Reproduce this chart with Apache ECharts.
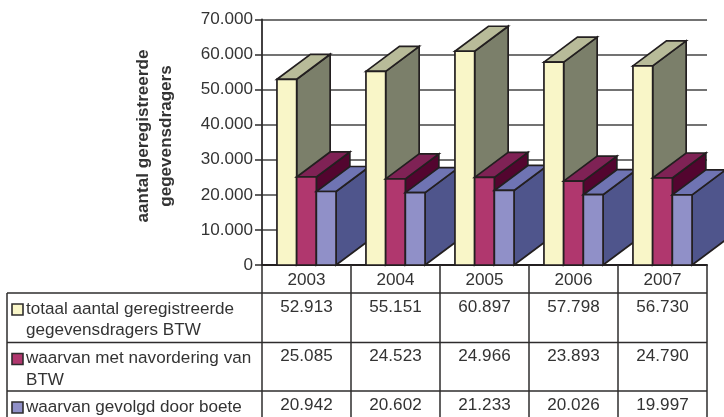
<!DOCTYPE html>
<html>
<head>
<meta charset="utf-8">
<style>html,body{margin:0;padding:0;background:#fff}#chart{width:724px;height:417px}</style>
<script src="https://cdn.jsdelivr.net/npm/echarts@6/dist/echarts.min.js"></script>
</head>
<body>
<div id="chart"></div>
<script>
const years = ['2003', '2004', '2005', '2006', '2007'];
const totaal = [52913, 55151, 60897, 57798, 56730];
const navordering = [25085, 24523, 24966, 23893, 24790];
const boete = [20942, 20602, 21233, 20026, 19997];
const yTicks = [0, 10000, 20000, 30000, 40000, 50000, 60000, 70000];
const yTitle = ['aantal geregistreerde', 'gegevensdragers'];
const rowLabels = [
  ['totaal aantal geregistreerde', 'gegevensdragers BTW'],
  ['waarvan met navordering van', 'BTW'],
  ['waarvan gevolgd door boete']
];
const rowValues = [totaal, navordering, boete];

const FONT = '"Liberation Sans", Arial, sans-serif';
const FONT_SIZE = 17.1;
const INK = '#231f20';
const RULE = '#2e2c2d';
const TEXT = '#333333';
const fmt = v => String(v).replace(/\B(?=(\d{3})+$)/g, '.');

// Front, top and side shades of each column series
const shades = [
  { front: '#f9f6c8', top: '#b8bb99', side: '#7b7f6a' },
  { front: '#b0376e', top: '#7f2255', side: '#53052f' },
  { front: '#9090c8', top: '#6f74b3', side: '#4f558c' }
];

const BAR_W = 19.7, DX = 33.5, DY = 25;

// Extruded column: front rectangle plus a parallelogram for the top and the side
function columnRenderer(seriesIdx) {
  const c = shades[seriesIdx];
  return function (params, api) {
    const top = api.coord([api.value(0), api.value(1)]);
    const base = api.coord([api.value(0), 0]);
    const x0 = top[0] + (seriesIdx - 1.5) * BAR_W;
    const x1 = x0 + BAR_W;
    const y0 = top[1], y1 = base[1];
    const stroke = { stroke: INK, lineWidth: 1.7, lineJoin: 'miter' };
    const poly = (points, fill) => ({
      type: 'polygon',
      shape: { points },
      style: Object.assign({ fill }, stroke)
    });
    return {
      type: 'group',
      children: [
        poly([[x1, y0], [x1 + DX, y0 - DY], [x1 + DX, y1 - DY], [x1, y1]], c.side),
        poly([[x0, y0], [x0 + DX, y0 - DY], [x1 + DX, y0 - DY], [x1, y0]], c.top),
        poly([[x0, y0], [x1, y0], [x1, y1], [x0, y1]], c.front)
      ]
    };
  };
}

const L = 262, R = 707, TOP = 19.3, BASE = 265;
const TABLE_LEFT = 7, ROW_Y = [293, 342.5, 391], TABLE_BOTTOM = 417;
const VALUE_Y = [307.5, 356.5, 405.5];
const band = (R - L) / years.length;

// Data table beneath the plot: one custom-series cell per value
function tableCell(row) {
  return function (params, api) {
    const p = api.coord([api.value(0), 0]);
    return {
      type: 'text',
      x: p[0], y: VALUE_Y[row],
      style: {
        text: fmt(api.value(1)), fill: TEXT, font: FONT_SIZE + 'px ' + FONT,
        align: 'center', verticalAlign: 'middle'
      }
    };
  };
}

const line = (x1, y1, x2, y2) => ({
  type: 'line',
  shape: { x1, y1, x2, y2 },
  style: { stroke: RULE, lineWidth: 1.5 },
  silent: true
});

const extras = [];
ROW_Y.forEach(y => extras.push(line(TABLE_LEFT, y, R, y)));
extras.push(line(TABLE_LEFT, ROW_Y[0], TABLE_LEFT, TABLE_BOTTOM));
for (let i = 0; i <= years.length; i++) {
  const x = L + i * band;
  extras.push(line(x, ROW_Y[0], x, TABLE_BOTTOM));
}
rowLabels.forEach((lines, r) => {
  extras.push({
    type: 'rect',
    shape: { x: 12, y: ROW_Y[r] + 11, width: 11, height: 11 },
    style: { fill: shades[r].front, stroke: RULE, lineWidth: 1.6 }
  });
  lines.forEach((t, k) => {
    extras.push({
      type: 'text',
      x: 26, y: ROW_Y[r] + 16 + k * 21.5,
      style: { text: t, fill: TEXT, font: FONT_SIZE + 'px ' + FONT, align: 'left', verticalAlign: 'middle' }
    });
  });
});

// Rotated two-line title next to the value axis
yTitle.forEach((t, k) => {
  extras.push({
    type: 'text',
    x: 143 + k * 23, y: 136,
    rotation: Math.PI / 2,
    style: { text: t, fill: TEXT, font: 'bold ' + FONT_SIZE + 'px ' + FONT, align: 'center', verticalAlign: 'middle' }
  });
});

const toPairs = arr => arr.map((v, i) => [i, v]);
const columnSeries = [totaal, navordering, boete];

// One custom series per category position keeps the paint order left to right
const chart = echarts.init(document.getElementById('chart'), null, { renderer: 'canvas' });
const series = [];
years.forEach((_, i) => {
  columnSeries.forEach((arr, s) => {
    series.push({
      type: 'custom',
      name: rowLabels[s].join(' '),
      renderItem: columnRenderer(s),
      data: [[i, arr[i]]],
      encode: { x: 0, y: 1 },
      clip: false,
      z: 3 + i,
      silent: true
    });
  });
});
rowValues.forEach((arr, r) => {
  series.push({
    type: 'custom',
    renderItem: tableCell(r),
    data: toPairs(arr),
    encode: { x: 0, y: 1 },
    clip: false,
    z: 20,
    silent: true
  });
});

chart.setOption({
  animation: false,
  backgroundColor: '#fff',
  textStyle: { fontFamily: FONT },
  grid: { left: L, right: 724 - R, top: TOP, height: BASE - TOP },
  xAxis: {
    type: 'category',
    data: years,
    axisLine: { onZero: false, lineStyle: { color: INK, width: 2 } },
    axisTick: { show: true, length: 28, inside: false, alignWithLabel: false, lineStyle: { color: RULE, width: 1.5 } },
    axisLabel: { color: TEXT, fontSize: FONT_SIZE, margin: 7, fontFamily: FONT, interval: 0 }
  },
  yAxis: {
    type: 'value',
    min: yTicks[0],
    max: yTicks[yTicks.length - 1],
    interval: yTicks[1] - yTicks[0],
    axisLine: { show: true, lineStyle: { color: RULE, width: 1.8 } },
    axisTick: { show: true, length: 7, lineStyle: { color: RULE, width: 1.5 } },
    axisLabel: { color: TEXT, fontSize: FONT_SIZE, margin: 9, fontFamily: FONT, formatter: fmt },
    splitLine: { show: true, lineStyle: { color: '#444444', width: 1.5 } }
  },
  graphic: { elements: extras },
  series
});
</script>
</body>
</html>
